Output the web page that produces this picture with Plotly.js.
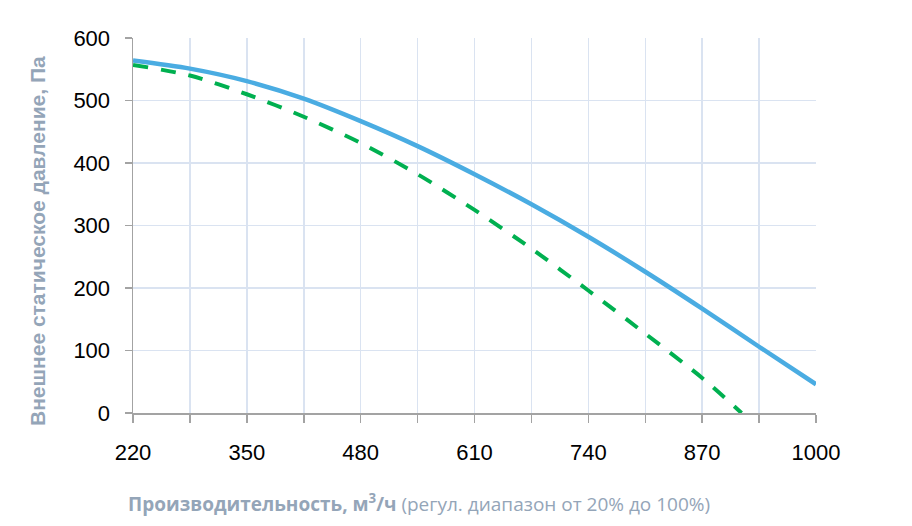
<!DOCTYPE html>
<html>
<head>
<meta charset="utf-8">
<script src="https://cdn.plot.ly/plotly-3.0.1.min.js"></script>
<style>
  html, body { margin: 0; padding: 0; background: #fff; }
  #fan-plot { width: 912px; height: 526px; }
</style>
</head>
<body>
<div id="fan-plot"></div>
<script>
// расход, м3/ч и давление, Па
var flowMax = [220, 285, 350, 415, 480, 545, 610, 675, 740, 805, 870, 935, 1000];
var pressMax = [564, 551, 531, 503, 467, 427, 382, 334, 282, 226, 167, 106, 46];

var flowMin = [220, 285, 350, 415, 480, 545, 610, 675, 740, 805, 870, 915];
var pressMin = [557, 540, 510, 474, 432, 382, 325, 263, 196, 127, 56, 0];

var xTicks = [220, 350, 480, 610, 740, 870, 1000];
var yTicks = [0, 100, 200, 300, 400, 500, 600];

var gridColor = '#DAE3F1';
var axisColor = '#A3A3A3';
var titleColor = '#94A5B8';

var traceMax = {
  x: flowMax,
  y: pressMax,
  type: 'scatter',
  mode: 'lines',
  line: {color: '#4AACE2', width: 4.5, shape: 'spline', smoothing: 0.8},
  hoverinfo: 'skip'
};

var traceMin = {
  x: flowMin,
  y: pressMin,
  type: 'scatter',
  mode: 'lines',
  line: {color: '#00B050', width: 4, dash: '15px,13px', shape: 'spline', smoothing: 0.8},
  hoverinfo: 'skip'
};

var layout = {
  width: 912,
  height: 526,
  margin: {l: 133, r: 96, t: 38, b: 113},
  paper_bgcolor: '#fff',
  plot_bgcolor: '#fff',
  showlegend: false,
  font: {family: 'Liberation Sans, Arial, sans-serif', size: 22, color: '#000'},
  xaxis: {
    range: [220, 1000],
    tickvals: xTicks,
    ticks: 'outside',
    ticklen: 8,
    tickcolor: axisColor,
    tickwidth: 1.5,
    ticklabelstandoff: 11,
    showline: true,
    linecolor: axisColor,
    linewidth: 1.5,
    showgrid: true,
    gridcolor: gridColor,
    gridwidth: 1.5,
    zeroline: false,
    minor: {dtick: 65, tick0: 220, ticks: 'outside', ticklen: 8, tickcolor: axisColor, tickwidth: 1.5, showgrid: true, gridcolor: gridColor, gridwidth: 1.5},
    tickfont: {size: 22}
  },
  yaxis: {
    range: [0, 600],
    tickvals: yTicks,
    ticks: 'outside',
    ticklen: 7,
    tickcolor: axisColor,
    tickwidth: 1.5,
    ticklabelstandoff: 10,
    showline: true,
    linecolor: axisColor,
    linewidth: 1.5,
    showgrid: true,
    gridcolor: gridColor,
    gridwidth: 1.5,
    zeroline: false,
    tickfont: {size: 22}
  },
  annotations: [
    {
      xref: 'paper', yref: 'paper',
      x: 0.419, y: -0.24,
      xanchor: 'center', yanchor: 'middle',
      showarrow: false,
      text: '<b>Производительность, м<sup>3</sup>/ч</b> (регул. диапазон от 20% до 100%)',
      font: {family: 'Open Sans, sans-serif', size: 19, color: titleColor}
    },
    {
      xref: 'paper', yref: 'paper',
      x: (37 - 133) / 683, y: (413 - 241) / 375,
      xanchor: 'center', yanchor: 'middle',
      textangle: -90,
      showarrow: false,
      text: '<b>Внешнее статическое давление, Па</b>',
      font: {family: 'Liberation Sans, Arial, sans-serif', size: 21, color: titleColor}
    }
  ]
};

document.addEventListener('DOMContentLoaded', function () {
  Plotly.newPlot('fan-plot', [traceMax, traceMin], layout, {staticPlot: true, displayModeBar: false});
});
</script>
</body>
</html>
